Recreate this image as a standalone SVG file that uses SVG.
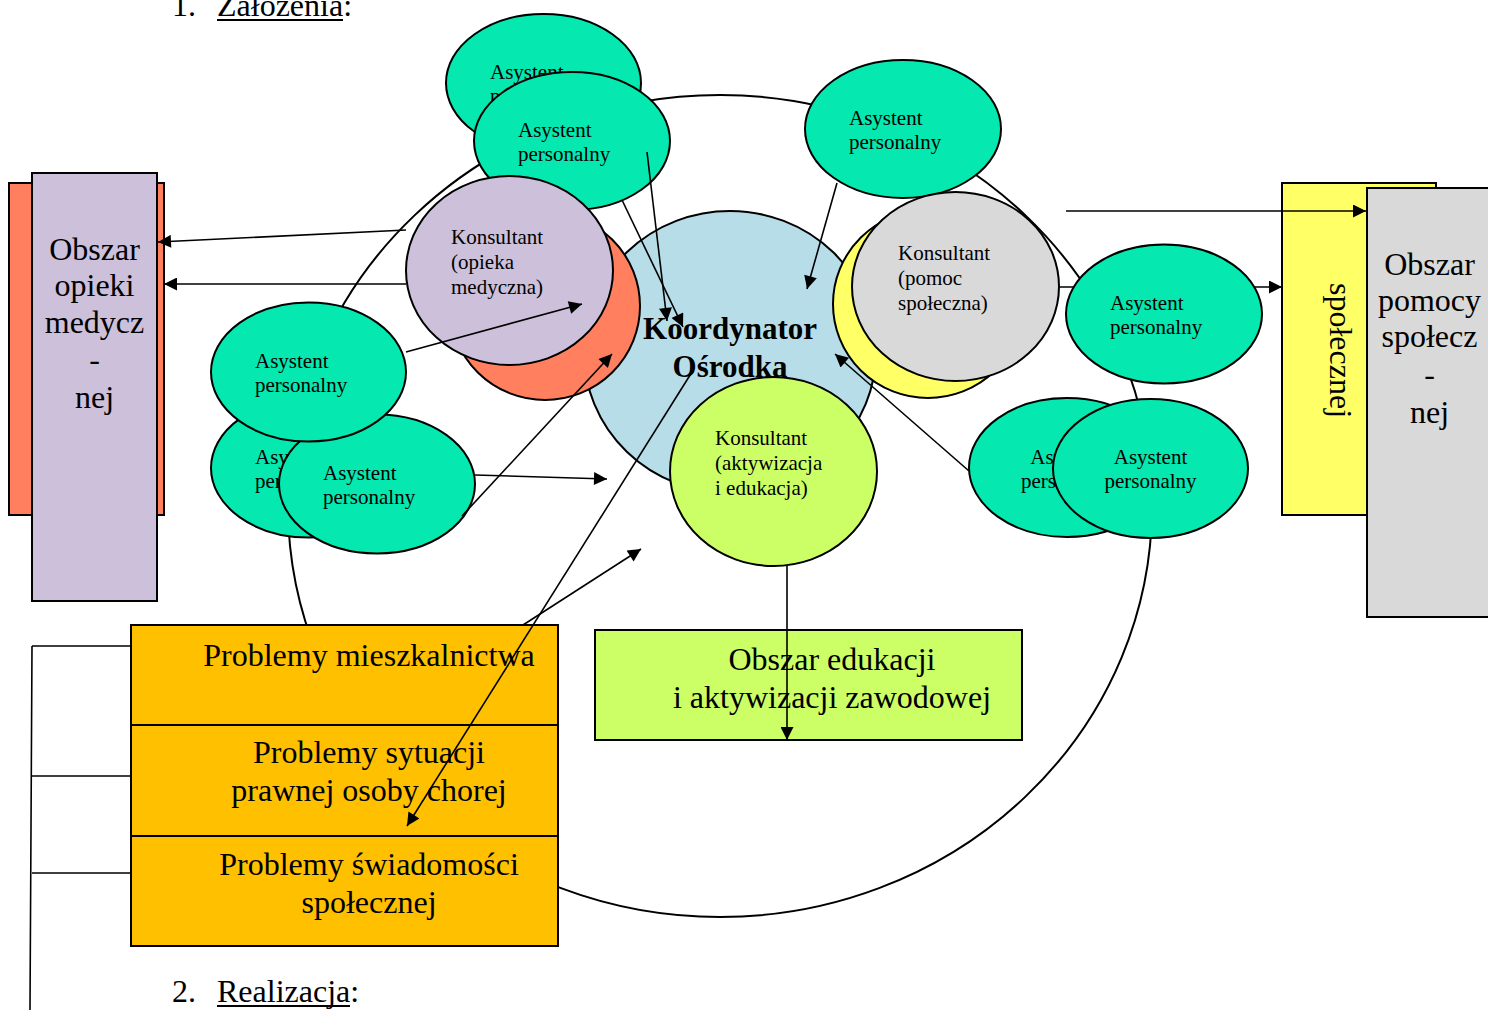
<svg xmlns="http://www.w3.org/2000/svg" width="1488" height="1010" viewBox="0 0 1488 1010">
<style>
text{font-family:"Liberation Serif","Times New Roman",serif;fill:#000}
.big{font-size:32px}
.sm{font-size:21px}
.ol{stroke:#000;stroke-width:2}
.asy{fill:#05E8AF;stroke:#000;stroke-width:2}
.ln{stroke:#000;stroke-width:1.6;fill:none}
.arr{stroke:#000;stroke-width:1.6;fill:none;marker-end:url(#ah)}
.mid{text-anchor:middle}
</style>
<defs>
<marker id="ah" viewBox="0 0 10 10" refX="10" refY="5" markerWidth="17" markerHeight="13" markerUnits="userSpaceOnUse" orient="auto"><path d="M0,0 L10,5 L0,10 z" fill="#000"/></marker>
</defs>
<rect width="1488" height="1010" fill="#fff"/>

<g id="header">
<text class="big" x="172" y="16">1.</text>
<text class="big" x="217" y="16">Założenia:</text>
<line x1="217" y1="20" x2="343" y2="20" stroke="#000" stroke-width="2"/>
<text class="big" x="172" y="1002">2.</text>
<text class="big" x="217" y="1002">Realizacja:</text>
<line x1="217" y1="1006" x2="350" y2="1006" stroke="#000" stroke-width="2"/>
</g>

<g id="outer-circle"><ellipse cx="720" cy="506" rx="432" ry="411" fill="none" class="ol"/></g>

<g id="obszar-opieki">
<rect x="9" y="183" width="155" height="332" fill="#FF7F5E" class="ol"/>
<rect x="32" y="173" width="125" height="428" fill="#CCC0DA" class="ol"/>
<text class="big mid" x="94.5" y="260">Obszar</text>
<text class="big mid" x="94.5" y="296">opieki</text>
<text class="big mid" x="94.5" y="333">medycz</text>
<text class="big mid" x="94.5" y="370">-</text>
<text class="big mid" x="94.5" y="408">nej</text>
</g>

<g id="obszar-pomocy">
<rect x="1282" y="183" width="154" height="332" fill="#FFFF66" class="ol"/>
<text class="big" transform="translate(1330,283) rotate(90)">społecznej</text>
<rect x="1367" y="188" width="130" height="429" fill="#D9D9D9" class="ol"/>
<text class="big mid" x="1429.5" y="275">Obszar</text>
<text class="big mid" x="1429.5" y="311">pomocy</text>
<text class="big mid" x="1429.5" y="347">społecz</text>
<text class="big mid" x="1429.5" y="385">-</text>
<text class="big mid" x="1429.5" y="423">nej</text>
</g>

<g id="problemy">
<path class="ln" d="M32,646 H133 M32,776 H133 M32,873 H131 M32,646 L30,1010" stroke-width="2"/>
<rect x="131" y="625" width="427" height="100" fill="#FFC000" class="ol"/>
<rect x="131" y="725" width="427" height="111" fill="#FFC000" class="ol"/>
<rect x="131" y="836" width="427" height="110" fill="#FFC000" class="ol"/>
<text class="big mid" x="369" y="666">Problemy mieszkalnictwa</text>
<text class="big mid" x="369" y="763">Problemy sytuacji</text>
<text class="big mid" x="369" y="801">prawnej osoby chorej</text>
<text class="big mid" x="369" y="875">Problemy świadomości</text>
<text class="big mid" x="369" y="913">społecznej</text>
</g>

<g id="obszar-edukacji">
<rect x="595" y="630" width="427" height="110" fill="#CCFF66" class="ol"/>
<text class="big mid" x="832" y="670">Obszar edukacji</text>
<text class="big mid" x="832" y="708">i aktywizacji zawodowej</text>
</g>

<g id="koordynator"><ellipse cx="730" cy="352" rx="146" ry="141" fill="#B7DDE8" class="ol"/></g>

<g id="asystent-top-back">
<ellipse cx="543.5" cy="83" rx="97.5" ry="69" class="asy"/>
<text class="sm" x="490" y="79">Asystent</text>
<text class="sm" x="490" y="103">personalny</text>
</g>
<g id="asystent-top-front">
<ellipse cx="572" cy="141" rx="98" ry="69" class="asy"/>
<text class="sm" x="518" y="137">Asystent</text>
<text class="sm" x="518" y="161">personalny</text>
</g>
<g id="asystent-top-right">
<ellipse cx="903" cy="129" rx="98" ry="69" class="asy"/>
<text class="sm" x="849" y="125">Asystent</text>
<text class="sm" x="849" y="149">personalny</text>
</g>

<g id="konsultant-opieka">
<ellipse cx="545" cy="306" rx="95" ry="94" fill="#FF7F5E" class="ol"/>
<ellipse cx="509.5" cy="270.5" rx="103.5" ry="94.5" fill="#CCC0DA" class="ol"/>
<text class="sm" x="451" y="244">Konsultant</text>
<text class="sm" x="451" y="269">(opieka</text>
<text class="sm" x="451" y="294">medyczna)</text>
</g>

<g id="konsultant-pomoc">
<ellipse cx="928" cy="304" rx="95" ry="94" fill="#FFFF66" class="ol"/>
<ellipse cx="955.5" cy="286.5" rx="103.5" ry="94.5" fill="#D9D9D9" class="ol"/>
<text class="sm" x="898" y="260">Konsultant</text>
<text class="sm" x="898" y="285">(pomoc</text>
<text class="sm" x="898" y="310">społeczna)</text>
</g>

<g id="konsultant-aktywizacja">
<ellipse cx="773.5" cy="471.5" rx="103.5" ry="94.5" fill="#CCFF66" class="ol"/>
<text class="sm" x="715" y="445">Konsultant</text>
<text class="sm" x="715" y="470">(aktywizacja</text>
<text class="sm" x="715" y="495">i edukacja)</text>
</g>

<g id="asystent-right">
<ellipse cx="1164" cy="314" rx="98" ry="69.5" class="asy"/>
<text class="sm" x="1110" y="310">Asystent</text>
<text class="sm" x="1110" y="334">personalny</text>
</g>
<g id="asystent-lower-right-back">
<ellipse cx="1067" cy="467.5" rx="98" ry="69.5" class="asy"/>
<text class="sm mid" x="1067" y="464">Asystent</text>
<text class="sm mid" x="1067" y="488">personalny</text>
</g>
<g id="asystent-lower-right-front">
<ellipse cx="1150.5" cy="468.5" rx="97.5" ry="69.5" class="asy"/>
<text class="sm mid" x="1150.5" y="464">Asystent</text>
<text class="sm mid" x="1150.5" y="488">personalny</text>
</g>

<g id="asystent-left-lower-back">
<ellipse cx="308.5" cy="468" rx="97.5" ry="69.5" class="asy"/>
<text class="sm" x="255" y="464">Asystent</text>
<text class="sm" x="255" y="488">personalny</text>
</g>
<g id="asystent-left-lower-front">
<ellipse cx="377" cy="484" rx="98" ry="69.5" class="asy"/>
<text class="sm" x="323" y="480">Asystent</text>
<text class="sm" x="323" y="504">personalny</text>
</g>
<g id="asystent-left-top">
<ellipse cx="308.5" cy="372" rx="97.5" ry="69.5" class="asy"/>
<text class="sm" x="255" y="368">Asystent</text>
<text class="sm" x="255" y="392">personalny</text>
</g>

<g id="koordynator-label">
<text class="mid" x="730" y="339" font-size="31" font-weight="bold">Koordynator</text>
<text class="mid" x="730" y="377" font-size="31" font-weight="bold">Ośrodka</text>
</g>

<g id="connectors">
<path class="arr" d="M406,230 L158,242"/>
<path class="arr" d="M406,284 L164,284"/>
<path class="arr" d="M406,352 L582,304"/>
<path class="arr" d="M462,516 L612,354"/>
<path class="arr" d="M475,475 L607,479"/>
<path class="arr" d="M523,625 L641,549"/>
<path class="arr" d="M692,372 L407,826"/>
<path class="arr" d="M647,152 L667,321"/>
<path class="arr" d="M622,200 L683,327"/>
<path class="arr" d="M837,183 L807,289"/>
<path class="arr" d="M969,471 L835,354"/>
<path class="arr" d="M787,566 L787,740"/>
<path class="arr" d="M1066,211 L1366,211"/>
<path class="arr" d="M1059,287 H1074 M1254,287 L1282,287"/>
</g>
</svg>
